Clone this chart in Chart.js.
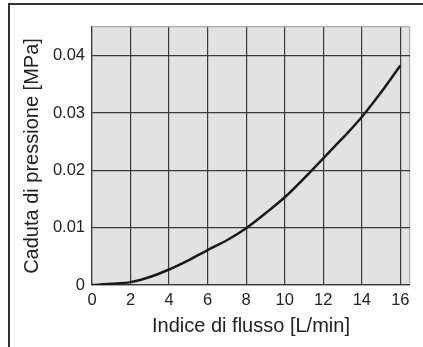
<!DOCTYPE html>
<html>
<head>
<meta charset="utf-8">
<script src="https://cdn.jsdelivr.net/npm/chart.js@4.4.1/dist/chart.umd.min.js"></script>
<style>
    html, body { margin: 0; padding: 0; background: #fff; }
    #wrap { position: relative; width: 423px; height: 347px; }
    #frame {
        position: absolute; left: 8px; top: 3px; right: 0; bottom: 0;
        border-top: 2px solid #333; border-left: 2px solid #333;
        pointer-events: none;
    }
</style>
</head>
<body>
<div id="wrap">
    <canvas id="pressure_chart" width="423" height="347"></canvas>
    <div id="frame"></div>
</div>
<script>
    // flow rate [L/min] and pressure drop [MPa]
    var flow = [0, 1, 2, 3, 4, 5, 6, 7, 8, 9, 10, 11, 12, 13, 14, 15, 16]
    var pressure_drop = [0, 0.0002, 0.0005, 0.0014, 0.0027, 0.0043, 0.0061, 0.0078, 0.0099,
        0.0125, 0.0153, 0.0186, 0.0221, 0.0256, 0.0293, 0.0336, 0.0383]
    var x_ticks = [0, 2, 4, 6, 8, 10, 12, 14, 16]
    var y_ticks = [0, 0.01, 0.02, 0.03, 0.04]
    var x_max = 16.5
    var y_max = 0.045

    var plot_bg = {
        id: 'plot_bg',
        beforeDraw: function (chart) {
            var a = chart.chartArea
            var ctx = chart.ctx
            ctx.save()
            ctx.fillStyle = '#e1e2e4'
            ctx.fillRect(a.left, a.top, a.right - a.left, a.bottom - a.top)
            ctx.restore()
        }
    }

    var font_family = "'Liberation Sans', Arial, sans-serif"

    var ctx = document.getElementById('pressure_chart')
    var chart = new Chart(ctx, {
        type: 'line',
        data: {
            datasets: [{
                data: flow.map(function (x, i) { return { x: x, y: pressure_drop[i] } }),
                borderColor: '#1a1a1a',
                borderWidth: 2.5,
                pointRadius: 0,
                fill: false,
                cubicInterpolationMode: 'monotone'
            }]
        },
        plugins: [plot_bg],
        options: {
            responsive: false,
            animation: false,
            layout: { padding: { top: 27, right: 13, left: 0, bottom: 0 } },
            plugins: {
                legend: { display: false },
                tooltip: { enabled: false }
            },
            scales: {
                x: {
                    type: 'linear',
                    min: 0,
                    max: x_max,
                    afterBuildTicks: function (scale) {
                        scale.ticks = x_ticks.concat([x_max]).map(function (v) { return { value: v } })
                    },
                    afterFit: function (scale) { scale.height = 62 },
                    grid: {
                        drawTicks: false,
                        lineWidth: 1.2,
                        color: function (c) { return c.tick && c.tick.value === x_max ? '#a9abae' : '#3a3a3a' }
                    },
                    border: { display: true, color: '#3a3a3a', width: 1.2 },
                    ticks: {
                        padding: 6,
                        color: '#222',
                        font: { family: font_family, size: 16.5 },
                        maxRotation: 0,
                        autoSkip: false,
                        callback: function (v) { return v === x_max ? '' : String(v) }
                    },
                    title: {
                        display: true,
                        text: 'Indice di flusso [L/min]',
                        color: '#222',
                        font: { family: font_family, size: 20 },
                        padding: { top: 0, bottom: 9 }
                    }
                },
                y: {
                    type: 'linear',
                    min: 0,
                    max: y_max,
                    afterBuildTicks: function (scale) {
                        scale.ticks = y_ticks.concat([y_max]).map(function (v) { return { value: v } })
                    },
                    afterFit: function (scale) { scale.width = 92 },
                    grid: {
                        drawTicks: false,
                        lineWidth: 1.2,
                        color: function (c) { return c.tick && c.tick.value === y_max ? '#a9abae' : '#3a3a3a' }
                    },
                    border: { display: true, color: '#3a3a3a', width: 1.2 },
                    ticks: {
                        padding: 7,
                        color: '#222',
                        font: { family: font_family, size: 16.5 },
                        autoSkip: false,
                        callback: function (v) {
                            if (v === y_max) return ''
                            return v === 0 ? '0' : v.toFixed(2)
                        }
                    },
                    title: {
                        display: true,
                        text: 'Caduta di pressione [MPa]',
                        color: '#222',
                        font: { family: font_family, size: 20 },
                        padding: { top: 20, bottom: 0 }
                    }
                }
            }
        }
    })
</script>
</body>
</html>
